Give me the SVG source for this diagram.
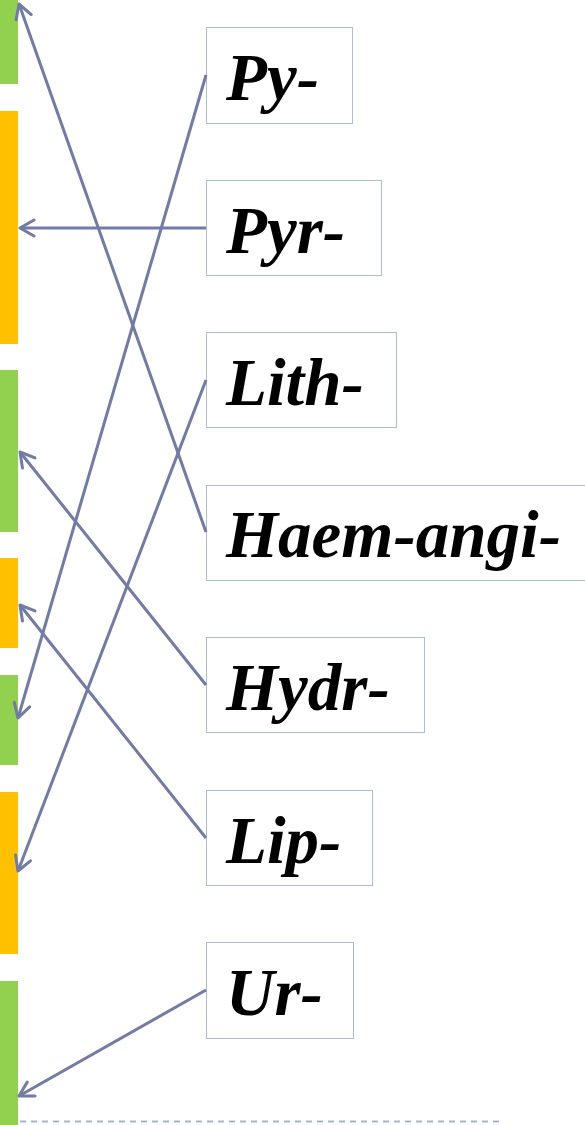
<svg xmlns="http://www.w3.org/2000/svg" width="585" height="1125" viewBox="0 0 585 1125">
<style>
.g{fill:#92d050}
.o{fill:#ffc000}
.box{fill:#ffffff;stroke:#a9bfd8;stroke-width:1}
.t{font-family:"Liberation Serif","Times New Roman",serif;font-weight:bold;font-style:italic;font-size:67px;fill:#000}
.c{stroke:#717ba6;stroke-width:3;fill:none;marker-end:url(#ah)}
</style>
<defs>
<marker id="ah" viewBox="0 0 20 20" refX="17" refY="10" markerWidth="20" markerHeight="20" markerUnits="userSpaceOnUse" orient="auto">
<path d="M3,2 L17,10 L3,18" fill="none" stroke="#717ba6" stroke-width="3" stroke-linecap="round" stroke-linejoin="round"/>
</marker>
</defs>
<rect width="585" height="1125" fill="#ffffff"/>
<g id="bars">
<rect class="g" x="0" y="0" width="18" height="84"/>
<rect class="o" x="0" y="111" width="18" height="233"/>
<rect class="g" x="0" y="370" width="18" height="162"/>
<rect class="o" x="0" y="558" width="18" height="90"/>
<rect class="g" x="0" y="675" width="18" height="90"/>
<rect class="o" x="0" y="792" width="18" height="162"/>
<rect class="g" x="0" y="981" width="18" height="144"/>
</g>
<g id="n-py"><rect class="box" x="206.5" y="27.5" width="146" height="96"/><text class="t" x="226" y="100">Py-</text></g>
<g id="n-pyr"><rect class="box" x="206.5" y="180.5" width="175" height="95"/><text class="t" x="226" y="253">Pyr-</text></g>
<g id="n-lith"><rect class="box" x="206.5" y="332.5" width="190" height="95"/><text class="t" x="226" y="405">Lith-</text></g>
<g id="n-haem"><rect class="box" x="206.5" y="485.5" width="385" height="95"/><text class="t" x="226" y="557">Haem-angi-</text></g>
<g id="n-hydr"><rect class="box" x="206.5" y="637.5" width="218" height="95"/><text class="t" x="226" y="710">Hydr-</text></g>
<g id="n-lip"><rect class="box" x="206.5" y="790.5" width="166" height="95"/><text class="t" x="226" y="863">Lip-</text></g>
<g id="n-ur"><rect class="box" x="206.5" y="942.5" width="147" height="96"/><text class="t" x="226" y="1015">Ur-</text></g>
<g id="connectors">
<line class="c" x1="206" y1="532" x2="19" y2="4"/>
<line class="c" x1="206" y1="228" x2="20" y2="228"/>
<line class="c" x1="206" y1="75" x2="18" y2="718"/>
<line class="c" x1="206" y1="380" x2="18" y2="871"/>
<line class="c" x1="206" y1="685" x2="20" y2="452"/>
<line class="c" x1="206" y1="838" x2="20" y2="605"/>
<line class="c" x1="206" y1="990" x2="19" y2="1096"/>
</g>
<line id="dash" x1="20" y1="1121.5" x2="503" y2="1121.5" stroke="#a3b7cc" stroke-width="2" stroke-dasharray="6,5"/>
</svg>
